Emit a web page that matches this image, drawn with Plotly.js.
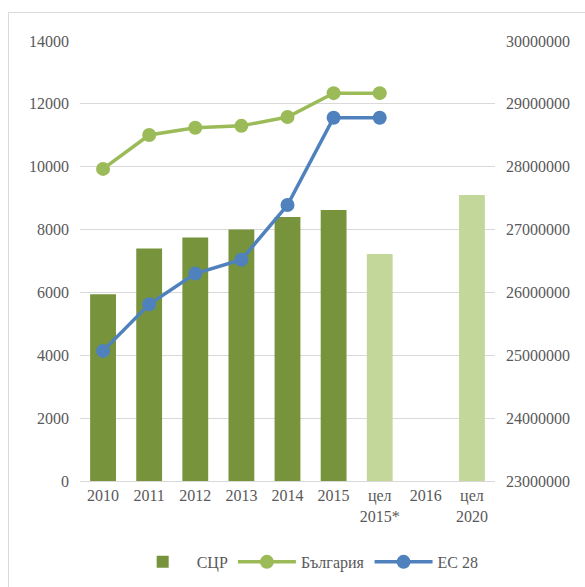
<!DOCTYPE html>
<html>
<head>
<meta charset="utf-8">
<script src="https://cdn.plot.ly/plotly-3.0.1.min.js"></script>
<style>
  html, body { margin: 0; padding: 0; background: #fff; }
  #wrap { position: relative; width: 585px; height: 587px; overflow: hidden; }
  #chart { width: 585px; height: 587px; }
  #frame { position: absolute; left: 8px; top: 12px; width: 700px; height: 700px;
           border-left: 1px solid #D9D9D9; border-top: 1px solid #D9D9D9; pointer-events: none; }
</style>
</head>
<body>
<div id="wrap"><div id="chart"></div><div id="frame"></div></div>
<script>
const categories = ["2010", "2011", "2012", "2013", "2014", "2015", "цел<br>2015*", "2016", "цел<br>2020"];
const sczValues = [5940, 7400, 7750, 8000, 8400, 8620, 7220, null, 9100];
const bulgariaValues = [9930, 11010, 11240, 11300, 11580, 12340, 12340, null, null];
const eu28Values = [25070000, 25810000, 26300000, 26520000, 27390000, 28780000, 28780000, null, null];
const barColors = ["#77933C", "#77933C", "#77933C", "#77933C", "#77933C", "#77933C", "#C4D79B", "#C4D79B", "#C4D79B"];
const leftTicks = [0, 2000, 4000, 6000, 8000, 10000, 12000, 14000];
const rightTicks = [23000000, 24000000, 25000000, 26000000, 27000000, 28000000, 29000000, 30000000];

const fam = "'Liberation Serif', 'Times New Roman', serif";
const font = { family: fam, size: 16, color: "#595959" };

const traces = [
  { type: "bar", name: "СЦР", x: categories, y: sczValues,
    marker: { color: barColors }, yaxis: "y", hoverinfo: "skip" },
  { type: "scatter", mode: "lines+markers", name: "България", x: categories, y: bulgariaValues,
    line: { color: "#9BBB59", width: 3.5 }, marker: { color: "#9BBB59", size: 14 },
    yaxis: "y", connectgaps: false },
  { type: "scatter", mode: "lines+markers", name: "ЕС 28", x: categories, y: eu28Values,
    line: { color: "#4F81BD", width: 3.5 }, marker: { color: "#4F81BD", size: 14 },
    yaxis: "y2", connectgaps: false }
];

const layout = {
  width: 585, height: 587,
  margin: { l: 80, r: 90, t: 41, b: 106, autoexpand: false },
  paper_bgcolor: "#fff", plot_bgcolor: "#fff",
  font: font,
  bargap: 0.44,
  showlegend: true,
  legend: { orientation: "h", x: 0.545, xanchor: "center", y: -0.184, yanchor: "middle",
            font: { family: fam, size: 16, color: "#595959" }, traceorder: "normal",
            itemwidth: 58 },
  xaxis: { type: "category", range: [-0.5, categories.length - 0.5], showgrid: false, showline: true,
           linecolor: "#D9D9D9", linewidth: 1,
           ticks: "", tickfont: font, zeroline: false, automargin: false },
  yaxis: { range: [0, 14000], tickvals: leftTicks, ticktext: leftTicks.map(String),
           showgrid: true, gridcolor: "#D9D9D9", gridwidth: 1, zeroline: false, showline: false,
           ticks: "", tickfont: font, ticklabelstandoff: 10, automargin: false },
  yaxis2: { range: [23000000, 30000000], tickvals: rightTicks, ticktext: rightTicks.map(String),
            overlaying: "y", side: "right", showgrid: false, zeroline: false, showline: false,
            ticks: "", tickfont: font, ticklabelstandoff: 10, automargin: false }
};

Plotly.newPlot("chart", traces, layout, { displayModeBar: false, staticPlot: true });
</script>
</body>
</html>
